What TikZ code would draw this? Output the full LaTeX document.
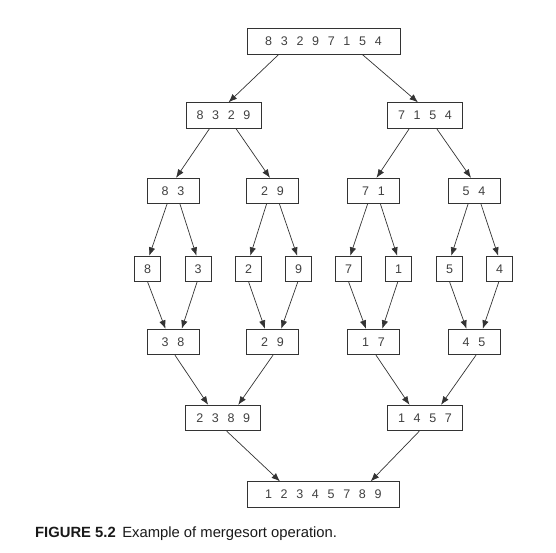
\documentclass[tikz,border=0pt]{standalone}
\usepackage{fontspec}
\setmainfont{Liberation Sans}
\usetikzlibrary{arrows.meta}
\newcommand\dsp{\hspace{8.7pt}}
\tikzset{
  box/.style={draw=black!80, line width=0.8pt, minimum height=25.5pt, inner sep=0pt,
    font=\fontsize{12.5}{13}\selectfont, text=black!75},
  arr/.style={draw=black!80, line width=0.7pt, -{Latex[length=8.5pt,width=6.5pt]}},
  captext/.style={anchor=base west, inner sep=0pt, font=\fontsize{14.8}{16}\selectfont, text=black!90}
}
\begin{document}
\begin{tikzpicture}[x=1pt,y=-1pt]
\useasboundingbox (0,0) rectangle (556,552);
% level 1
\node[box, minimum width=153pt] (top) at (323.5,41.5) {8\dsp 3\dsp 2\dsp 9\dsp 7\dsp 1\dsp 5\dsp 4};
% level 2
\node[box, minimum width=75pt] (a) at (223.5,115.5) {8\dsp 3\dsp 2\dsp 9};
\node[box, minimum width=75pt] (b) at (425,115.5) {7\dsp 1\dsp 5\dsp 4};
% level 3
\node[box, minimum width=52pt] (c1) at (173,191) {8\dsp 3};
\node[box, minimum width=52pt] (c2) at (272.5,191) {2\dsp 9};
\node[box, minimum width=52pt] (c3) at (373.5,191) {7\dsp 1};
\node[box, minimum width=52pt] (c4) at (474,191) {5\dsp 4};
% level 4
\node[box, minimum width=26pt] (l1) at (147.7,269) {8};
\node[box, minimum width=26pt] (l2) at (198,269) {3};
\node[box, minimum width=26pt] (l3) at (248.7,269) {2};
\node[box, minimum width=26pt] (l4) at (298.7,269) {9};
\node[box, minimum width=26pt] (l5) at (348.7,269) {7};
\node[box, minimum width=26pt] (l6) at (398.7,269) {1};
\node[box, minimum width=26pt] (l7) at (449.7,269) {5};
\node[box, minimum width=26pt] (l8) at (499.7,269) {4};
% level 5
\node[box, minimum width=52pt] (m1) at (173,342) {3\dsp 8};
\node[box, minimum width=52pt] (m2) at (272.5,342) {2\dsp 9};
\node[box, minimum width=52pt] (m3) at (373.5,342) {1\dsp 7};
\node[box, minimum width=52pt] (m4) at (474,342) {4\dsp 5};
% level 6
\node[box, minimum width=75pt] (d1) at (223.2,418) {2\dsp 3\dsp 8\dsp 9};
\node[box, minimum width=75pt] (d2) at (425,418) {1\dsp 4\dsp 5\dsp 7};
% level 7
\node[box, minimum width=152pt] (bot) at (323.3,494.5) {1\dsp 2\dsp 3\dsp 4\dsp 5\dsp 7\dsp 8\dsp 9};
% caption
\node[captext] (caption) at (35,537.3) {\textbf{FIGURE 5.2}\hspace{6.5pt}Example of mergesort operation.};
% arrows: split
\draw[arr] ([xshift=-45pt]top.south) -- ([xshift=5pt]a.north);
\draw[arr] ([xshift=39pt]top.south) -- ([xshift=-7pt]b.north);
\draw[arr] ([xshift=-14pt]a.south) -- ([xshift=3pt]c1.north);
\draw[arr] ([xshift=12.5pt]a.south) -- ([xshift=-2.5pt]c2.north);
\draw[arr] ([xshift=-15.7pt]b.south) -- ([xshift=3pt]c3.north);
\draw[arr] ([xshift=11.7pt]b.south) -- ([xshift=-3pt]c4.north);
\foreach \p/\l/\r in {c1/l1/l2, c2/l3/l4, c3/l5/l6, c4/l7/l8}{
  \draw[arr] ([xshift=-6pt]\p.south) -- ([xshift=1.5pt]\l.north);
  \draw[arr] ([xshift=7pt]\p.south) -- ([xshift=-1.5pt]\r.north);
}
% arrows: merge
\foreach \m/\l/\r in {m1/l1/l2, m2/l3/l4, m3/l5/l6, m4/l7/l8}{
  \draw[arr] ([xshift=0pt]\l.south) -- ([xshift=-7.5pt]\m.north);
  \draw[arr] ([xshift=-1pt]\r.south) -- ([xshift=8.7pt]\m.north);
}
\draw[arr] ([xshift=2pt]m1.south) -- ([xshift=-15pt]d1.north);
\draw[arr] ([xshift=0.5pt]m2.south) -- ([xshift=15pt]d1.north);
\draw[arr] ([xshift=2.5pt]m3.south) -- ([xshift=-15.5pt]d2.north);
\draw[arr] ([xshift=2pt]m4.south) -- ([xshift=16pt]d2.north);
\draw[arr] ([xshift=3.5pt]d1.south) -- ([xshift=-43.3pt]bot.north);
\draw[arr] ([xshift=-5.7pt]d2.south) -- ([xshift=47.4pt]bot.north);
\end{tikzpicture}
\end{document}
